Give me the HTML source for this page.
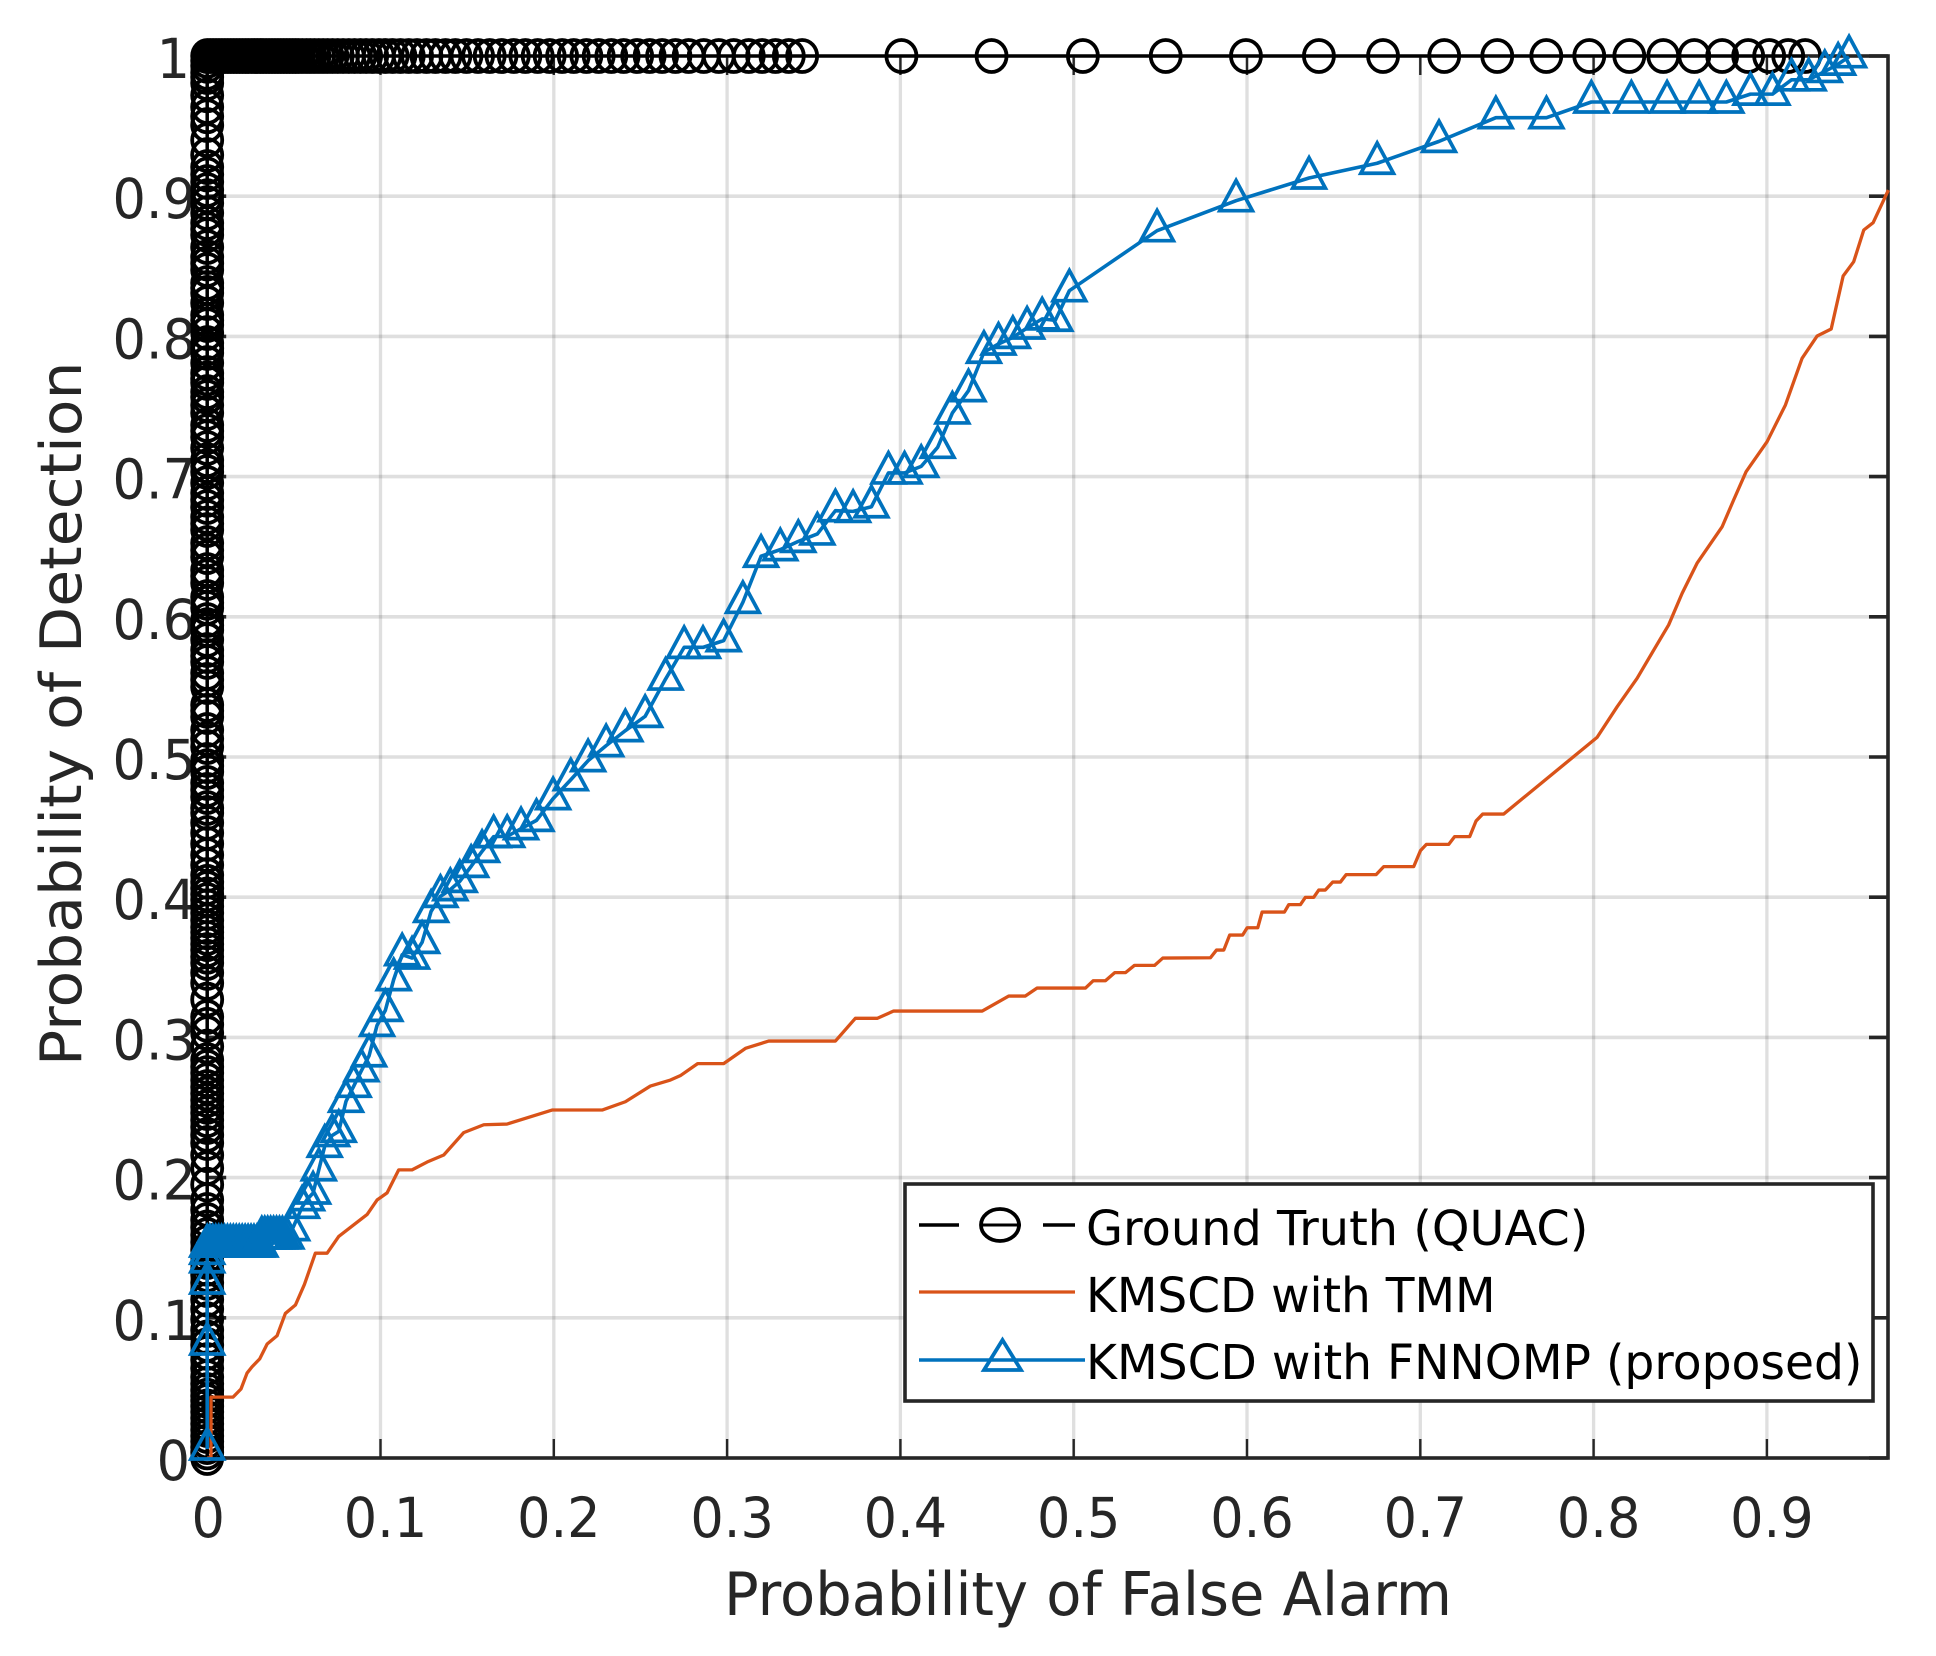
<!DOCTYPE html>
<html lang="en">
<head>
<meta charset="utf-8">
<title>ROC curves</title>
<style>
html,body{margin:0;padding:0;background:#fff;}
svg{display:block;}
text{font-family:"DejaVu Sans","Liberation Sans",sans-serif;}
</style>
</head>
<body>
<svg id="chart" xmlns="http://www.w3.org/2000/svg" width="1936" height="1656" viewBox="0 0 1936 1656">
<rect x="0" y="0" width="1936" height="1656" fill="#ffffff"/>
<g id="grid"></g>
<g id="axes"></g>
<g id="tick-labels"></g>
<text transform="translate(724,1615) scale(1.004,1.035)" font-size="57.3" fill="#262626">Probability of False Alarm</text>
<text transform="translate(81,1066) rotate(-90) scale(1.047,1)" font-size="57.3" fill="#262626">Probability of Detection</text>
<g id="series-gt"></g>
<g id="series-tmm"></g>
<g id="series-km"></g>
<g>
<rect x="905" y="1184" width="968" height="217" fill="#ffffff" stroke="#262626" stroke-width="3.6"/>
<g>
<line x1="919" y1="1225" x2="959" y2="1225" stroke="#000" stroke-width="3.5"/>
<line x1="980" y1="1225" x2="1021" y2="1225" stroke="#000" stroke-width="3"/>
<line x1="1043" y1="1225" x2="1075" y2="1225" stroke="#000" stroke-width="3.5"/>
<ellipse cx="1000" cy="1225" rx="19" ry="16" fill="none" stroke="#000" stroke-width="3.8"/>
<text transform="translate(1086,1245) scale(1.017,1.03)" font-size="47" fill="#000">Ground Truth (QUAC)</text>
</g>
<g>
<line x1="919" y1="1292" x2="1075" y2="1292" stroke="#D95319" stroke-width="3.2"/>
<text transform="translate(1086,1312) scale(1,1.03)" font-size="47" fill="#000">KMSCD with TMM</text>
</g>
<g>
<line x1="919" y1="1360" x2="1085" y2="1360" stroke="#0072BD" stroke-width="3.6"/>
<polygon points="1002.5,1340 1021,1370 984,1370" fill="none" stroke="#0072BD" stroke-width="3.8"/>
<text transform="translate(1086,1379) scale(1.004,1.03)" font-size="47" fill="#000">KMSCD with FNNOMP (proposed)</text>
</g>
</g>
</svg>
<script>
var xTickValues = [0,0.1,0.2,0.3,0.4,0.5,0.6,0.7,0.8,0.9];
var xTickLabels = ['0','0.1','0.2','0.3','0.4','0.5','0.6','0.7','0.8','0.9'];
var yTickValues = [0,0.1,0.2,0.3,0.4,0.5,0.6,0.7,0.8,0.9,1];
var yTickLabels = ['0','0.1','0.2','0.3','0.4','0.5','0.6','0.7','0.8','0.9','1'];

var gtPdAtZeroFpr = [.0000,.0040,.0078,.0118,.0157,.0200,.0243,.0285,.0328,.0368,.0407,.0445,.0485,.0530,.0578,.0640,.0699,.0750,.0806,.0860,.0913,.0990,.1063,.1130,.1198,.1250,.1305,.1350,.1398,.1440,.1484,.1540,.1591,.1645,.1698,.1770,.1840,.1950,.2068,.2160,.2247,.2305,.2361,.2410,.2461,.2505,.2553,.2600,.2646,.2695,.2746,.2790,.2839,.2935,.3031,.3090,.3146,.3270,.3388,.3460,.3531,.3575,.3623,.3665,.3709,.3750,.3787,.3835,.3887,.3935,.3980,.4020,.4066,.4110,.4158,.4230,.4301,.4380,.4458,.4530,.4601,.4636,.4715,.4765,.4815,.4893,.4935,.4979,.5071,.5130,.5193,.5285,.5330,.5371,.5499,.5550,.5599,.5678,.5720,.5763,.5835,.5906,.5940,.5977,.6063,.6100,.6141,.6241,.6290,.6334,.6426,.6475,.6526,.6619,.6665,.6712,.6783,.6835,.6883,.6954,.7033,.7075,.7118,.7204,.7282,.7325,.7368,.7454,.7510,.7568,.7603,.7668,.7700,.7739,.7810,.7882,.7915,.7953,.8024,.8081,.8115,.8153,.8238,.8310,.8345,.8381,.8474,.8520,.8566,.8638,.8723,.8765,.8809,.8880,.8951,.9000,.9044,.9101,.9155,.9208,.9294,.9400,.9508,.9570,.9636,.9720,.9807,.9850,.9880,.9930,.9965,1.0000];

var gtFprAtFullPd = [.0017,.0034,.0051,.0068,.0085,.0102,.0119,.0136,.0153,.0170,.0187,.0204,.0221,.0238,.0255,.0272,.0289,.0306,.0323,.0340,.0357,.0374,.0391,.0408,.0425,.0442,.0459,.0476,.0493,.0510,.0527,.0549,.0573,.0595,.0619,.0644,.0669,.0695,.0723,.0753,.0784,.0817,.0850,.0884,.0917,.0952,.0990,.1029,.1070,.1115,.1163,.1211,.1265,.1317,.1375,.1432,.1496,.1563,.1630,.1698,.1769,.1836,.1907,.1976,.2048,.2115,.2188,.2259,.2332,.2403,.2481,.2553,.2625,.2702,.2778,.2865,.2952,.3038,.3125,.3202,.3279,.3356,.3433,.4006,.4526,.5053,.5531,.5994,.6415,.6785,.7138,.7444,.7727,.7975,.8206,.8402,.8581,.8742,.8892,.9013,.9123,.9221];

var tmmFpr = [0,.0022,.0022,.0149,.0195,.0230,.0259,.0303,.0346,.0403,.0451,.0509,.0561,.0624,.0692,.0759,.0923,.0980,.1038,.1105,.1182,.1269,.1365,.1480,.1596,.1730,.1990,.2279,.2413,.2557,.2673,.2730,
.2830,.2980,.3106,.3240,.3625,.3740,.3866,.3961,.4472,.4625,.4721,.4789,.5068,.5112,.5183,.5237,.5299,.5351,.5467,.5514,.5789,
.5824,.5866,.5900,.5975,.6001,.6062,.6087,.6216,.6241,.6308,.6337,.6385,.6414,.6452,.6495,.6539,.6572,.6745,.6789,.6962,.7001,.7035,.7164,.7198,.7285,.7322,.7360,.7481,
.8020,.8136,.8251,.8347,.8433,.8511,.8597,.8742,.8808,.8880,.9001,.9107,.9203,.9290,.9371,.9440,.9501,.9559,.9613,.9701];
var tmmPd = [0,0,.0434,.0434,.0492,.0606,.0651,.0707,.0813,.0872,.1031,.1091,.1238,.1461,.1461,.1580,.1737,.1840,.1891,.2055,.2055,.2111,.2161,.2321,.2377,.2382,.2482,.2482,.2541,.2653,.2696,.2727,
.2813,.2813,.2922,.2974,.2974,.3136,.3136,.3188,.3188,.3295,.3295,.3352,.3352,.3404,.3404,.3462,.3462,.3514,.3514,.3566,.3568,
.3623,.3623,.3730,.3730,.3782,.3782,.3894,.3894,.3947,.3947,.3999,.3999,.4051,.4051,.4108,.4108,.4161,.4161,.4218,.4218,.4332,.4377,.4377,.4432,.4432,.4544,.4593,.4593,
.5140,.5359,.5561,.5763,.5942,.6168,.6382,.6643,.6833,.7035,.7249,.7511,.7844,.8003,.8053,.8431,.8533,.8759,.8811,.9044];

var fnnompFpr = [0,0,0,0,0,0,
.0015,.0032,.0049,.0066,.0083,.0100,.0117,.0134,.0151,.0168,.0185,.0202,.0219,.0236,.0253,.0270,.0287,.0307,
.0315,.0332,.0349,.0366,.0383,.0400,.0417,.0434,.0457,
.0490,.0547,.0576,.0611,.0644,.0678,.0721,.0759,.0801,.0845,.0890,.0934,.0980,.1028,.1076,.1125,.1182,.1240,.1292,.1346,.1403,.1457,.1523,.1586,.1653,.1731,.1811,.1900,.1996,
.2098,.2198,.2302,.2413,.2527,.2645,.2752,.2861,.2980,.3091,.3196,.3307,.3411,.3521,.3625,.3727,.3833,.3931,.4024,.4120,.4215,.4300,.4393,.4482,.4566,.4649,.4731,.4818,.4894,.4975,.5481,.5937,.6358,.6751,.7108,.7436,.7728,.7987,.8218,.8424,.8609,.8766,.8905,.9032,.9142,.9241,.9334,.9411,.9474];
var fnnompPd = [.0064,.0813,.1248,.1400,.1460,.1512,
.1512,.1512,.1512,.1512,.1512,.1512,.1512,.1512,.1512,.1512,.1512,.1512,.1512,.1512,.1512,.1512,.1512,.1512,
.1570,.1570,.1570,.1570,.1570,.1570,.1570,.1570,.1570,
.1629,.1788,.1843,.1890,.2056,.2223,.2300,.2330,.2544,.2651,.2763,.2869,.3086,.3193,.3412,.3590,.3566,.3678,.3899,.4006,.4054,.4113,.4220,.4327,.4432,.4434,.4489,.4548,.4703,
.4838,.4974,.5081,.5188,.5290,.5556,.5782,.5782,.5830,.6103,.6432,.6479,.6538,.6591,.6757,.6752,.6785,.7026,.7026,.7073,.7209,.7454,.7613,.7887,.7946,.7993,.8060,.8125,.8115,.8326,.8754,.8968,.9130,.9235,.9391,.9560,.9560,.9672,.9672,.9672,.9672,.9672,.9728,.9728,.9830,.9830,.9890,.9942,.9995];

var SVGNS = 'http://www.w3.org/2000/svg';
var PLOT_LEFT = 207.2, PLOT_RIGHT = 1888, PLOT_BOTTOM = 1458, PLOT_TOP = 56;
var PX_PER_X = 1733, PX_PER_Y = 1402;
function xScale(v){ return PLOT_LEFT + v * PX_PER_X; }
function yScale(v){ return PLOT_BOTTOM - v * PX_PER_Y; }
function make(tag, attrs, parent){
  var el = document.createElementNS(SVGNS, tag);
  for (var k in attrs) el.setAttribute(k, attrs[k]);
  parent.appendChild(el);
  return el;
}
function pointString(xs, ys){
  var out = [];
  for (var i = 0; i < xs.length; i++) out.push(xScale(xs[i]).toFixed(2) + ',' + yScale(ys[i]).toFixed(2));
  return out.join(' ');
}

var gridG = document.getElementById('grid');
var axesG = document.getElementById('axes');
var labelsG = document.getElementById('tick-labels');
var el;

xTickValues.forEach(function(v, i){
  var px = xScale(v);
  if (v > 0) {
    el = make('line', {x1:px, y1:PLOT_TOP, x2:px, y2:PLOT_BOTTOM, stroke:'#262626', 'stroke-opacity':0.15, 'stroke-width':3.3}, gridG);
    
    
  }
  el = make('line', {x1:px, y1:PLOT_BOTTOM, x2:px, y2:PLOT_BOTTOM - 19, stroke:'#262626', 'stroke-width':2.4}, axesG);
  
  
  el = make('line', {x1:px, y1:PLOT_TOP, x2:px, y2:PLOT_TOP + 19, stroke:'#262626', 'stroke-width':2.4}, axesG);
  
  
  var off = v === 0 ? 1 : 5;
  el = make('text', {transform:'translate(' + (px + off) + ',1537) scale(1,1.06)', 'text-anchor':'middle', 'font-size':52.5, fill:'#262626'}, labelsG);
  el.textContent = xTickLabels[i];
  
  
});

yTickValues.forEach(function(v, i){
  var py = yScale(v);
  if (v > 0 && v < 1) {
    el = make('line', {x1:PLOT_LEFT, y1:py, x2:PLOT_RIGHT, y2:py, stroke:'#262626', 'stroke-opacity':0.15, 'stroke-width':3.6}, gridG);
    
    
  }
  el = make('line', {x1:PLOT_LEFT, y1:py, x2:PLOT_LEFT + 19, y2:py, stroke:'#262626', 'stroke-width':3.6}, axesG);
  
  
  el = make('line', {x1:PLOT_RIGHT, y1:py, x2:PLOT_RIGHT - 19, y2:py, stroke:'#262626', 'stroke-width':3.6}, axesG);
  
  
  var endX = (v === 0 || v === 1) ? 190 : 196;
  el = make('text', {transform:'translate(' + endX + ',' + (py + 22) + ') scale(1,1.06)', 'text-anchor':'end', 'font-size':52.5, fill:'#262626'}, labelsG);
  el.textContent = yTickLabels[i];
  
  
});

el = make('rect', {x:PLOT_LEFT, y:PLOT_TOP, width:PLOT_RIGHT - PLOT_LEFT, height:PLOT_BOTTOM - PLOT_TOP, fill:'none', stroke:'#262626', 'stroke-width':3.6}, axesG);



var gtG = document.getElementById('series-gt');
var gtXs = gtPdAtZeroFpr.map(function(){ return 0; }).concat(gtFprAtFullPd);
var gtYs = gtPdAtZeroFpr.concat(gtFprAtFullPd.map(function(){ return 1; }));
el = make('polyline', {points:pointString(gtXs, gtYs), fill:'none', stroke:'#000', 'stroke-width':3}, gtG);


gtXs.forEach(function(x, i){
  var m = make('ellipse', {cx:xScale(x), cy:yScale(gtYs[i]), rx:15, ry:16, fill:'none', stroke:'#000', 'stroke-width':3.8}, gtG);
  
  
});

var tmmG = document.getElementById('series-tmm');
el = make('polyline', {points:pointString(tmmFpr, tmmPd), fill:'none', stroke:'#D95319', 'stroke-width':3.3, 'stroke-linejoin':'round'}, tmmG);



var kmG = document.getElementById('series-km');
el = make('polyline', {points:pointString(fnnompFpr, fnnompPd), fill:'none', stroke:'#0072BD', 'stroke-width':3.6, 'stroke-linejoin':'round'}, kmG);


fnnompFpr.forEach(function(x, i){
  var cx = xScale(x), cy = yScale(fnnompPd[i]);
  var pts = cx + ',' + (cy - 20.2) + ' ' + (cx + 16.3) + ',' + (cy + 10) + ' ' + (cx - 16.3) + ',' + (cy + 10);
  var m = make('polygon', {points:pts, fill:'none', stroke:'#0072BD', 'stroke-width':3.7}, kmG);
  
  
});
</script>
</body>
</html>
